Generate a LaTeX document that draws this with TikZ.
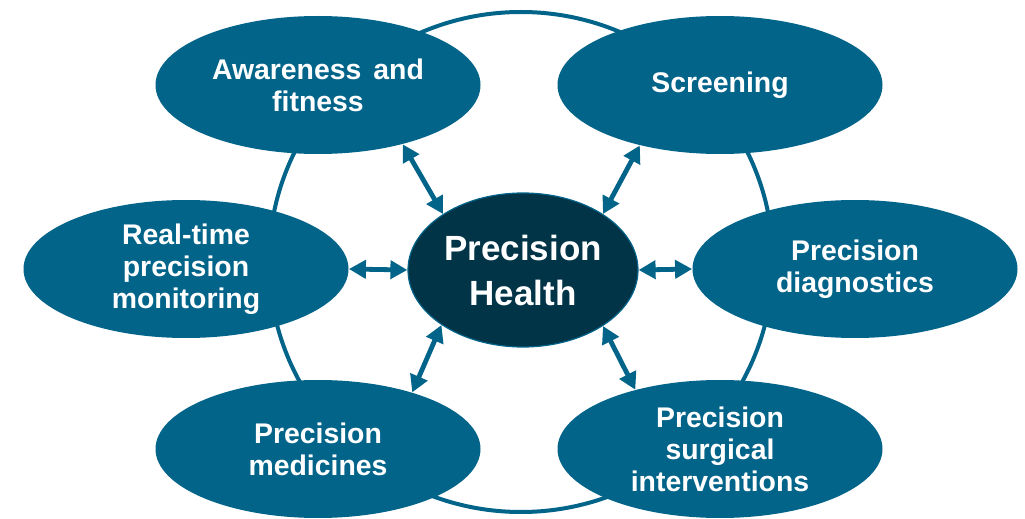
\documentclass[tikz,border=0pt]{standalone}
\usepackage{fontspec}
\setmainfont{Liberation Sans}
\usepackage{xcolor}
\usetikzlibrary{shapes,arrows.meta}
\definecolor{petrol}{HTML}{03648A}
\definecolor{deeppetrol}{HTML}{023447}

\begin{document}
\begin{tikzpicture}[x=0.5pt,y=-0.5pt]
\useasboundingbox (0,0) rectangle (1025,519);
\draw[petrol,line width=2pt] (521,262) ellipse [x radius=252, y radius=250];
\tikzstyle{every node}=[shape=ellipse,fill=petrol,text=white,inner sep=0pt,
  minimum width=162.5pt,minimum height=69pt,align=center,
  font=\bfseries\fontsize{14.2}{16}\selectfont];
\tikzstyle{link}=[petrol,line width=2.4pt,
  {Triangle[length=8.5pt,width=9pt]}-{Triangle[length=8.5pt,width=9pt]}];

\node[fill=deeppetrol,draw=petrol,line width=0.6pt,minimum width=115pt,minimum height=77pt,
  font=\bfseries\fontsize{17.5}{22.5}\selectfont] (h0) at (523,270) {Precision\\Health};
\node (h1) at (318,85) {Awareness\hspace{6pt}and\\fitness};
\node (h2) at (720,85) {Screening};
\node (h3) at (186,269) {Real-time\\precision\\monitoring};
\node (h4) at (855,269) {Precision\\diagnostics};
\node (h5) at (318,449) {Precision\\medicines};
\node (h6) at (720,449) {Precision\\surgical\\interventions};

\draw[link] (h0.145) -- (h1.-35);
\draw[link] (h0.35) -- (h2.217);
\draw[link] (h0.west) -- (h3.east);
\draw[link] (h0.east) -- (h4.west);
\draw[link] (h0.214) -- (h5.31);
\draw[link] (h0.-35) -- (h6.145);
\end{tikzpicture}
\end{document}
